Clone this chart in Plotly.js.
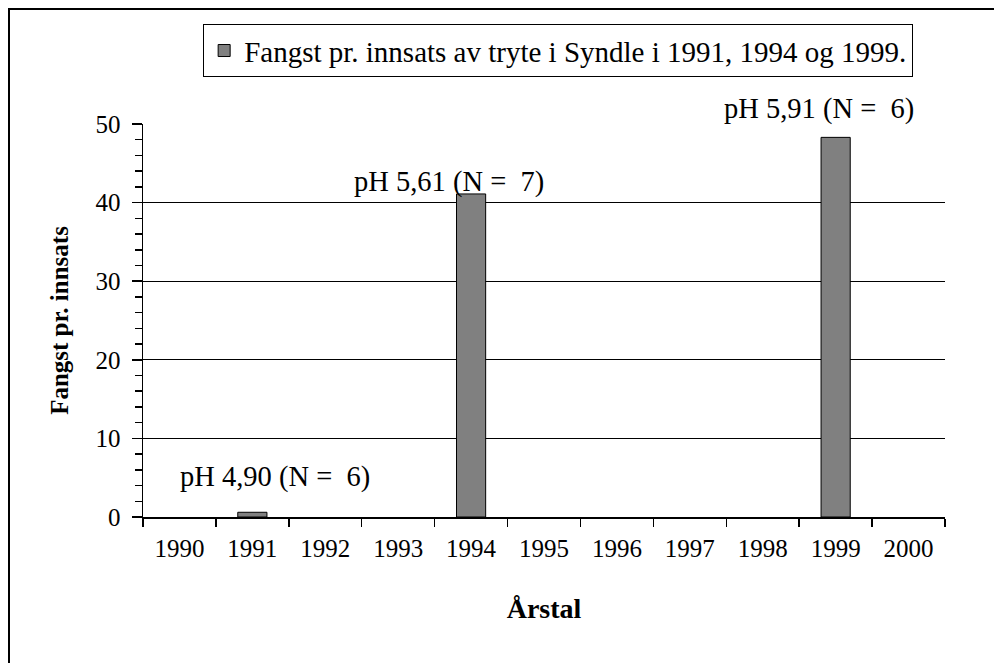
<!DOCTYPE html>
<html>
<head>
<meta charset="utf-8">
<script src="https://cdn.plot.ly/plotly-3.0.1.min.js"></script>
<style>
html,body{margin:0;padding:0;background:#fff;overflow:hidden;}
#frame{position:absolute;left:8px;top:8px;width:2000px;height:2000px;border-left:2px solid #000;border-top:2px solid #000;}
#chart{position:absolute;left:0;top:0;width:994px;height:663px;}
</style>
</head>
<body>
<div id="frame"></div>
<div id="chart"></div>
<script>
const years = ['1990','1991','1992','1993','1994','1995','1996','1997','1998','1999','2000'];
const catch_per_effort = [null, 0.6, null, null, 41.1, null, null, null, null, 48.3, null];
const seriesName = 'Fangst pr. innsats av tryte i Syndle i 1991, 1994 og 1999.';
const labels = ['pH 4,90 (N =\u00a0\u00a06)', 'pH 5,61 (N =\u00a0\u00a07)', 'pH 5,91 (N =\u00a0\u00a06)'];
const yTitle = 'Fangst pr. innsats';
const xTitle = 'Årstal';

const font = 'Liberation Serif, Times New Roman, serif';

const trace = {
  type: 'bar',
  x: years,
  y: catch_per_effort,
  name: seriesName,
  marker: {color: '#808080', line: {color: '#000', width: 1}},
  showlegend: true,
  hoverinfo: 'x+y'
};

const layout = {
  width: 994, height: 663,
  margin: {l: 143, r: 49, t: 124, b: 146},
  paper_bgcolor: 'rgba(0,0,0,0)',
  plot_bgcolor: 'rgba(0,0,0,0)',
  font: {family: font, size: 25, color: '#000'},
  bargap: 0.6,
  showlegend: true,
  legend: {
    x: 0.075, y: 1.254, xanchor: 'left', yanchor: 'top',
    bordercolor: '#000', borderwidth: 1, bgcolor: '#fff',
    itemwidth: 30,
    font: {family: font, size: 29, color: '#000'}
  },
  xaxis: {
    type: 'category',
    categoryorder: 'array', categoryarray: years,
    range: [-0.5, 10.5],
    showline: true, linecolor: '#000', linewidth: 1.5,
    ticks: 'outside', tickson: 'boundaries', ticklen: 8, tickcolor: '#000', tickwidth: 1.5,
    ticklabelstandoff: 8,
    showgrid: false, zeroline: false,
    tickfont: {family: font, size: 25, color: '#000'},
    title: {text: xTitle, font: {family: font, size: 28, color: '#000', weight: 'bold'}, standoff: 38}
  },
  yaxis: {
    range: [0, 50], dtick: 10, tick0: 0,
    showline: true, linecolor: '#000', linewidth: 1.5,
    ticks: 'outside', ticklen: 10, tickcolor: '#000', tickwidth: 1.5,
    minor: {dtick: 2, ticks: 'outside', ticklen: 7, tickcolor: '#000', tickwidth: 1.5, showgrid: false},
    showgrid: true, gridcolor: '#000', gridwidth: 1,
    zeroline: false,
    ticklabelstandoff: 6,
    tickfont: {family: font, size: 25, color: '#000'},
    title: {text: yTitle, font: {family: font, size: 25, color: '#000', weight: 'bold'}, standoff: 20}
  },
  annotations: [
    {text: labels[0], xref: 'paper', yref: 'paper', x: 0.1645, y: 0.102, xanchor: 'center', yanchor: 'middle', showarrow: false, font: {family: font, size: 28.5, color: '#000'}},
    {text: labels[1], xref: 'paper', yref: 'paper', x: 0.381, y: 0.852, xanchor: 'center', yanchor: 'middle', showarrow: false, font: {family: font, size: 28.5, color: '#000'}},
    {text: labels[2], xref: 'paper', yref: 'paper', x: 0.843, y: 1.038, xanchor: 'center', yanchor: 'middle', showarrow: false, font: {family: font, size: 28.5, color: '#000'}}
  ]
};

Plotly.newPlot('chart', [trace], layout, {staticPlot: true, displayModeBar: false});
</script>
</body>
</html>
